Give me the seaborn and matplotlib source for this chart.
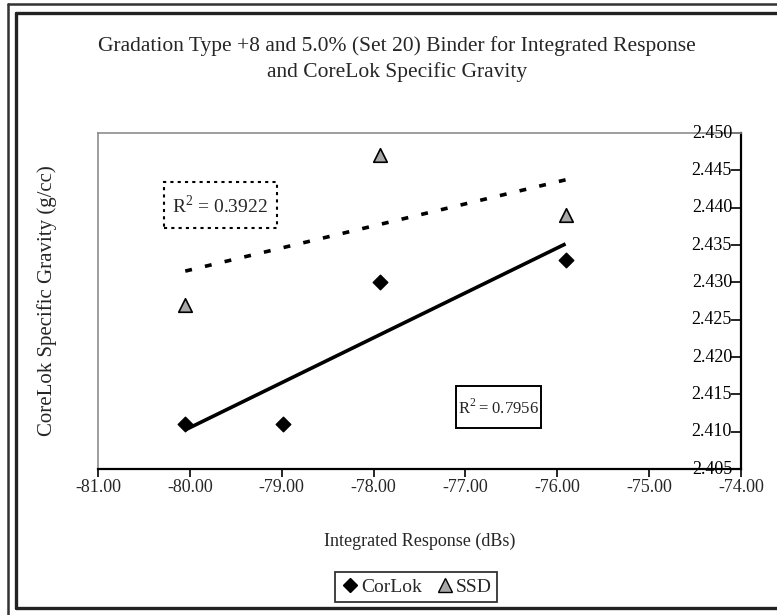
import numpy as np
import pandas as pd
import matplotlib
matplotlib.use("Agg")
import matplotlib.pyplot as plt
import matplotlib.transforms as mtransforms
from matplotlib.lines import Line2D
from matplotlib.patches import Rectangle
import seaborn as sns

# ---- data ----
corlok_x = [-80.05, -78.99, -77.93, -75.91]
corlok_y = [2.411, 2.411, 2.430, 2.433]
ssd_x = [-80.05, -77.93, -75.91]
ssd_y = [2.427, 2.447, 2.439]
x_ticks = [-81, -80, -79, -78, -77, -76, -75, -74]
y_ticks = [2.405, 2.410, 2.415, 2.420, 2.425, 2.430, 2.435, 2.440, 2.445, 2.450]
r2_corlok = "R$^2$\u2009=\u20090.7956"
r2_ssd = "R$^2$ = 0.3922"
title = "Gradation Type +8 and 5.0% (Set 20) Binder for Integrated Response\nand CoreLok Specific Gravity"
xlabel = "Integrated Response (dBs)"
ylabel = "CoreLok Specific Gravity (g/cc)"

df = pd.DataFrame({
    "x": corlok_x + ssd_x,
    "y": corlok_y + ssd_y,
    "series": ["CorLok"] * len(corlok_x) + ["SSD"] * len(ssd_x),
})
df_c = df[df.series == "CorLok"]
df_s = df[df.series == "SSD"]

sns.set_theme(style="white")
plt.rcParams["font.family"] = ["Liberation Serif", "DejaVu Serif"]
plt.rcParams["mathtext.fontset"] = "custom"
plt.rcParams["mathtext.rm"] = "Liberation Serif"

W, H = 777, 615
fig = plt.figure(figsize=(W / 100, H / 100), dpi=100)
ax = fig.add_axes([98 / W, 1 - 469 / H, (741 - 98) / W, (469 - 133) / H])

# trend lines
sns.regplot(data=df_c, x="x", y="y", ax=ax, scatter=False,
            ci=None, truncate=True,
            line_kws=dict(color="black", lw=2.6, solid_capstyle="butt"))
sns.regplot(data=df_s, x="x", y="y", ax=ax, scatter=False,
            ci=None, truncate=True,
            line_kws=dict(color="black", lw=2.6, ls=(0, (1.9, 3.7))))

# markers
sns.scatterplot(data=df_c, x="x", y="y", marker="D", color="black",
                edgecolor="black", linewidth=1.0, s=55, ax=ax, legend=False,
                zorder=5)
sns.scatterplot(data=df_s, x="x", y="y", marker="^", color="#a8a8a8",
                edgecolor="black", linewidth=1.2, s=95, ax=ax, legend=False,
                zorder=5)

ax.set_xlim(-81, -74)
ax.set_ylim(2.405, 2.450)
ax.set_xticks(x_ticks)
ax.set_xticklabels([f"{v:.2f}" for v in x_ticks], fontsize=13)
ax.set_yticks(y_ticks)
ax.tick_params(axis="x", direction="out", length=6, width=1.2, color="black",
               bottom=True, pad=1)
ax.tick_params(axis="y", left=False, labelleft=False, right=True,
               labelright=False, direction="in", length=7, width=1.2,
               color="black")

# y tick labels drawn just left of the right-hand axis (Excel style)
trans = mtransforms.offset_copy(ax.get_yaxis_transform(), fig=fig, x=-9, y=0,
                                units="dots")
for v in y_ticks:
    ax.text(1.0, v, f"{v:.3f}", transform=trans, ha="right", va="center",
            fontsize=13, color="black")

for side in ["left", "top"]:
    ax.spines[side].set_color("#8c8c8c")
    ax.spines[side].set_linewidth(1.2)
for side in ["right", "bottom"]:
    ax.spines[side].set_color("black")
    ax.spines[side].set_linewidth(1.6)

ax.set_xlabel(xlabel, fontsize=13)
ax.set_ylabel(ylabel, fontsize=15)
ax.xaxis.set_label_coords(0.5, -0.19)
ax.yaxis.set_label_coords(-0.063, 0.5)

fig.text(397 / W, 1 - 59 / H, title, ha="center", va="center", fontsize=15.5,
         linespacing=1.4)

# R^2 annotations
fig.text(220 / W, 1 - 206 / H, r2_ssd, ha="center", va="center", fontsize=14)
fig.add_artist(Rectangle((164 / W, 1 - 228 / H), 113 / W, 46 / H,
                         transform=fig.transFigure, fill=False, ec="black",
                         lw=1.5, ls=(0, (1.5, 2.0))))
fig.text(498 / W, 1 - 408 / H, r2_corlok, ha="center", va="center",
         fontsize=12)
fig.add_artist(Rectangle((456 / W, 1 - 428 / H), 85 / W, 42 / H,
                         transform=fig.transFigure, fill=False, ec="black",
                         lw=1.4))

# legend
handles = [
    Line2D([], [], marker="D", color="black", ls="none", markersize=7,
           markeredgecolor="black"),
    Line2D([], [], marker="^", color="#a8a8a8", ls="none", markersize=9.5,
           markeredgecolor="black"),
]
leg = fig.legend(handles, ["CorLok", "SSD"], loc="center",
                 bbox_to_anchor=(416 / W, 1 - 587 / H), ncol=2, fontsize=14,
                 frameon=True, fancybox=False, edgecolor="black",
                 handletextpad=0.05, columnspacing=0.7, borderpad=0.3,
                 handlelength=1.0, borderaxespad=0)
leg.get_frame().set_linewidth(1.3)

# outer frames
def vline(x, y0, y1, lw, c):
    fig.add_artist(Line2D([x / W, x / W], [1 - y0 / H, 1 - y1 / H],
                          transform=fig.transFigure, lw=lw, color=c))

def hline(y, x0, x1, lw, c):
    fig.add_artist(Line2D([x0 / W, x1 / W], [1 - y / H, 1 - y / H],
                          transform=fig.transFigure, lw=lw, color=c))

vline(8, 4, H, 1.8, "#333333")
hline(4, 8, W, 1.8, "#333333")
vline(16, 13, 608, 2.4, "#222222")
hline(13, 16, W, 2.4, "#222222")
hline(608, 16, W, 2.4, "#222222")

fig.savefig("out.png", dpi=100)
